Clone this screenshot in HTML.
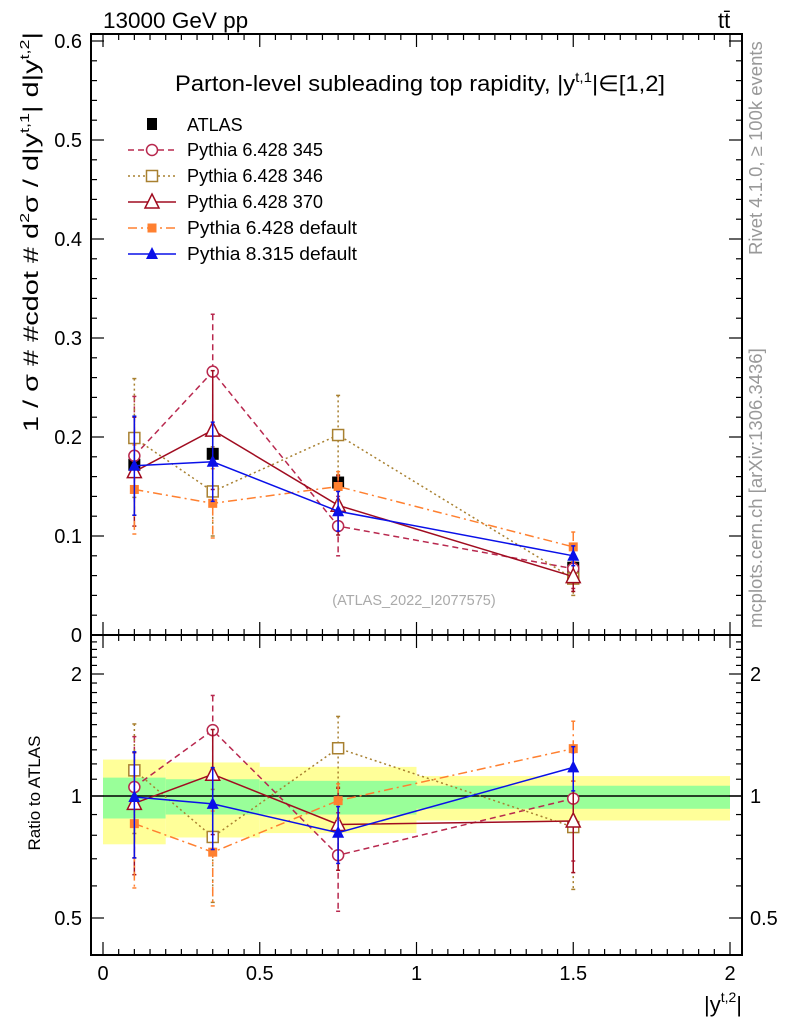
<!DOCTYPE html>
<html><head><meta charset="utf-8"><style>
html,body{margin:0;padding:0;background:#fff;}
svg{display:block;font-family:"Liberation Sans",sans-serif;}
</style></head><body>
<svg id="c" width="786" height="1024" viewBox="0 0 786 1024" xmlns="http://www.w3.org/2000/svg">
<g id="bands"></g>
<g id="axes"></g>
<g id="series"></g>
<text x="103" y="28" font-size="22.5">13000 GeV pp</text>
<text x="718" y="28" font-size="22">tt̄</text>
<text x="420" y="91" font-size="22" text-anchor="middle" textLength="490" lengthAdjust="spacingAndGlyphs">Parton-level subleading top rapidity, |y<tspan dy="-9" font-size="14">t,1</tspan><tspan dy="9">|∈[1,2]</tspan></text>
<text x="414" y="605" font-size="14.5" fill="#aaa" text-anchor="middle">(ATLAS_2022_I2077575)</text>
<text transform="translate(762,255) rotate(-90)" font-size="18.5" fill="#999">Rivet 4.1.0, ≥ 100k events</text>
<text transform="translate(762,628) rotate(-90)" font-size="18.5" fill="#999">mcplots.cern.ch [arXiv:1306.3436]</text>
<text transform="translate(38,232) rotate(-90)" font-size="21" text-anchor="middle" textLength="400" lengthAdjust="spacingAndGlyphs">1 / σ # #cdot # d<tspan dy="-9" font-size="13">2</tspan><tspan dy="9">σ / d|y</tspan><tspan dy="-9" font-size="13">t,1</tspan><tspan dy="9">| d|y</tspan><tspan dy="-9" font-size="13">t,2</tspan><tspan dy="9">|</tspan></text>
<text transform="translate(40,793) rotate(-90)" font-size="17" text-anchor="middle">Ratio to ATLAS</text>
<text x="742" y="1012" font-size="22" text-anchor="end">|y<tspan dy="-10" font-size="14">t,2</tspan><tspan dy="10">|</tspan></text>
<g id="legend"></g>
</svg>
<script>
const xCenters=[0.1,0.35,0.75,1.5];
const binEdges=[0,0.2,0.5,1,2];
const atlas=[0.172,0.183,0.154,0.068];
const yellowHi=[1.23,1.21,1.18,1.12];
const yellowLo=[0.76,0.79,0.81,0.87];
const greenHi=[1.11,1.10,1.09,1.06];
const greenLo=[0.88,0.90,0.90,0.93];
const p345=[0.181,0.266,0.110,0.067];
const p345err=[0.06,0.058,0.03,0.02];
const p346=[0.199,0.145,0.202,0.057];
const p346err=[0.06,0.045,0.04,0.017];
const p370=[0.165,0.207,0.131,0.059];
const p370err=[0.055,0.06,0.03,0.015];
const p6def=[0.147,0.133,0.150,0.089];
const p6deferr=[0.045,0.035,0.015,0.015];
const p8def=[0.171,0.175,0.125,0.080];
const p8deferr=[0.05,0.04,0.02,0.01];
const mainTicks=[0,0.1,0.2,0.3,0.4,0.5,0.6];
const xTicks=[0,0.5,1,1.5,2];
const ratioTicks=[0.5,1,2];

const NS="http://www.w3.org/2000/svg";
const L=91,R=742,T1=34,B1=635,B2=955;
const X=v=>103+v*313.5;
const Y=v=>635-v*990;
const RY=v=>796-Math.log2(v)*122;
function mk(tag,at,parent){const e=document.createElementNS(NS,tag);for(const k in at)e.setAttribute(k,at[k]);parent.appendChild(e);return e;}
const ax=document.getElementById('axes'),bd=document.getElementById('bands'),sg=document.getElementById('series'),lg=document.getElementById('legend');

for(let i=0;i<4;i++){
 const y=mk('rect',{x:X(binEdges[i]),y:RY(yellowHi[i]),width:X(binEdges[i+1])-X(binEdges[i]),height:RY(yellowLo[i])-RY(yellowHi[i]),fill:'#ffff99'},bd);
 
 
 const g=mk('rect',{x:X(binEdges[i]),y:RY(greenHi[i]),width:X(binEdges[i+1])-X(binEdges[i]),height:RY(greenLo[i])-RY(greenHi[i]),fill:'#99ff99'},bd);
 
 
}
mk('line',{x1:L,x2:R,y1:RY(1),y2:RY(1),stroke:'#000','stroke-width':1.5},ax);
mk('rect',{x:L,y:T1,width:R-L,height:B1-T1,fill:'none',stroke:'#000','stroke-width':2},ax);
mk('rect',{x:L,y:B1,width:R-L,height:B2-B1,fill:'none',stroke:'#000','stroke-width':2},ax);
for(let k=0;k<=40;k++){const v=k*0.05;const maj=k%10==0;const len=maj?13:6;const x=X(v);
 for(const [top,bot] of [[T1,B1],[B1,B2]]){
  mk('line',{x1:x,x2:x,y1:bot,y2:bot-len,stroke:'#000','stroke-width':1.2},ax);
  mk('line',{x1:x,x2:x,y1:top,y2:top+len,stroke:'#000','stroke-width':1.2},ax);}}
xTicks.forEach(v=>{const t=mk('text',{x:X(v),y:980,'font-size':20,'text-anchor':'middle'},ax);t.textContent=String(v);
 
 });
for(let k=0;k<=30;k++){const v=k*0.02;const y=Y(v);if(y<T1)continue;const len=k%5==0?13:6;
 mk('line',{x1:L,x2:L+len,y1:y,y2:y,stroke:'#000','stroke-width':1.2},ax);
 mk('line',{x1:R,x2:R-len,y1:y,y2:y,stroke:'#000','stroke-width':1.2},ax);}
mainTicks.forEach(v=>{const t=mk('text',{x:82,y:Y(v)+7,'font-size':20,'text-anchor':'end'},ax);t.textContent=v===0?'0':v.toFixed(1);
 
 });
for(let k=4;k<=25;k++){const v=k/10;const y=RY(v);if(y<B1||y>B2)continue;const maj=(k==5||k==10||k==20);const len=maj?13:6;
 mk('line',{x1:L,x2:L+len,y1:y,y2:y,stroke:'#000','stroke-width':1.2},ax);
 mk('line',{x1:R,x2:R-len,y1:y,y2:y,stroke:'#000','stroke-width':1.2},ax);}
ratioTicks.forEach(v=>{const t=mk('text',{x:82,y:RY(v)+7,'font-size':20,'text-anchor':'end'},ax);t.textContent=String(v);
 
 
 const t2=mk('text',{x:750,y:RY(v)+7,'font-size':20},ax);t2.textContent=String(v);
 
 });

function marker(kind,color,x,y,g){
 const s=5.5;
 if(kind=='circle')mk('circle',{cx:x,cy:y,r:s,fill:'#fff',stroke:color,'stroke-width':1.5},g);
 else if(kind=='osq')mk('rect',{x:x-s,y:y-s,width:2*s,height:2*s,fill:'#fff',stroke:color,'stroke-width':1.5},g);
 else if(kind=='fsq')mk('rect',{x:x-4.5,y:y-4.5,width:9,height:9,fill:color},g);
 else if(kind=='otri')mk('path',{d:`M${x},${y-8}L${x+7},${y+6}L${x-7},${y+6}Z`,fill:'#fff',stroke:color,'stroke-width':1.5},g);
 else if(kind=='ftri')mk('path',{d:`M${x},${y-7}L${x+6},${y+5}L${x-6},${y+5}Z`,fill:color},g);
}
const series=[
 {name:'Pythia 6.428 345',v:p345,e:p345err,c:'#b8284e',dash:'6,4',m:'circle',id:'pythia6-345'},
 {name:'Pythia 6.428 346',v:p346,e:p346err,c:'#a88030',dash:'2,3',m:'osq',id:'pythia6-346'},
 {name:'Pythia 6.428 370',v:p370,e:p370err,c:'#a00c20',dash:'',m:'otri',id:'pythia6-370'},
 {name:'Pythia 6.428 default',v:p6def,e:p6deferr,c:'#ff8030',dash:'9,4,2,4',m:'fsq',id:'pythia6-default'},
 {name:'Pythia 8.315 default',v:p8def,e:p8deferr,c:'#0a10e8',dash:'',m:'ftri',id:'pythia8-default'}];
atlas.forEach((v,i)=>{const r=mk('rect',{x:X(xCenters[i])-6,y:Y(v)-6,width:12,height:12,fill:'#000'},sg);
 
 });
series.forEach(s=>{
 const g=mk('g',{},sg);
 
 
 const st={stroke:s.c,'stroke-width':1.5,fill:'none'};if(s.dash)st['stroke-dasharray']=s.dash;
 for(const [f,ratio] of [[Y,false],[RY,true]]){
  const val=i=>ratio?s.v[i]/atlas[i]:s.v[i];
  const err=i=>ratio?s.e[i]/atlas[i]:s.e[i];
  mk('polyline',Object.assign({points:s.v.map((_,i)=>X(xCenters[i])+','+f(val(i))).join(' ')},st),g);
  s.v.forEach((_,i)=>{const x=X(xCenters[i]);const y1=f(val(i)+err(i)),y2=f(Math.max(val(i)-err(i),0.01));
   mk('line',Object.assign({x1:x,x2:x,y1:y1,y2:y2},st),g);
   mk('line',{x1:x-2,x2:x+2,y1:y1,y2:y1,stroke:s.c,'stroke-width':1.5},g);
   mk('line',{x1:x-2,x2:x+2,y1:y2,y2:y2,stroke:s.c,'stroke-width':1.5},g);
   marker(s.m,s.c,x,f(val(i)),g);});
 }
});
{const e=mk('g',{},lg);
 mk('rect',{x:147,y:118,width:10,height:12,fill:'#000'},e);
 const t=mk('text',{x:187,y:131,'font-size':18},e);t.textContent='ATLAS';}
series.forEach((s,k)=>{const y=150+k*26;const e=mk('g',{},lg);
 
 
 const st={x1:128,x2:176,y1:y,y2:y,stroke:s.c,'stroke-width':1.5};if(s.dash)st['stroke-dasharray']=s.dash;
 mk('line',st,e);marker(s.m,s.c,152,y,e);
 const t=mk('text',{x:187,y:y+6,'font-size':18,textLength:170*(s.name.length/20),lengthAdjust:'spacingAndGlyphs'},e);t.textContent=s.name;});
</script>
</body></html>
